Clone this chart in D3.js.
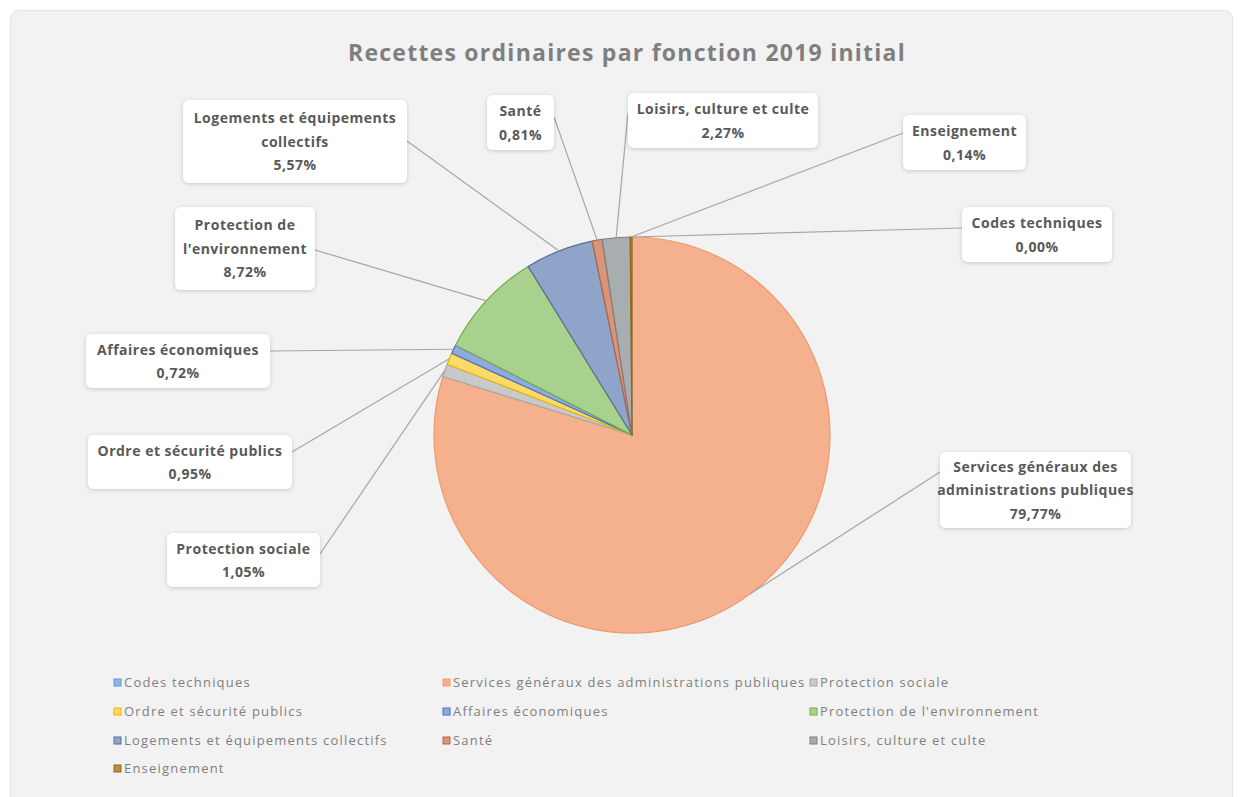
<!DOCTYPE html>
<html>
<head>
<meta charset="utf-8">
<script src="https://cdn.jsdelivr.net/npm/d3@7"></script>
<style>
  html, body { margin: 0; padding: 0; background: #ffffff; }
  svg { display: block; }
</style>
</head>
<body>
<script>
// ---------- DATA ----------
const categories = [
  "Codes techniques",
  "Services généraux des administrations publiques",
  "Protection sociale",
  "Ordre et sécurité publics",
  "Affaires économiques",
  "Protection de l'environnement",
  "Logements et équipements collectifs",
  "Santé",
  "Loisirs, culture et culte",
  "Enseignement"
];
const values = [0.00, 79.77, 1.05, 0.95, 0.72, 8.72, 5.57, 0.81, 2.27, 0.14];
const valueLabels = ["0,00%", "79,77%", "1,05%", "0,95%", "0,72%", "8,72%", "5,57%", "0,81%", "2,27%", "0,14%"];
const labelLines = [
  ["Codes techniques"],
  ["Services généraux des", "administrations publiques"],
  ["Protection sociale"],
  ["Ordre et sécurité publics"],
  ["Affaires économiques"],
  ["Protection de", "l'environnement"],
  ["Logements et équipements", "collectifs"],
  ["Santé"],
  ["Loisirs, culture et culte"],
  ["Enseignement"]
];
const title = "Recettes ordinaires par fonction 2019 initial";

// ---------- STYLE / LAYOUT ----------
const colors = ["#8fb4e0", "#f5b08e", "#c9c9c9", "#ffd966", "#8faadc", "#a9d18e",
                "#8ea4c8", "#d9957a", "#a8aeb0", "#b8913a"];
const strokes = ["#5b9bd5", "#ed9a6c", "#a5a5a5", "#e6b800", "#4472c4", "#70ad47",
                 "#5a6f94", "#b5653f", "#7f7f7f", "#8c6a1c"];
const boxes = [
  {x: 962, y: 207, w: 150, h: 55, ax: 962, ay: 228},
  {x: 940, y: 452, w: 191, h: 76, ax: 940, ay: 472},
  {x: 167, y: 533, w: 153, h: 54, ax: 320, ay: 554},
  {x: 88,  y: 435, w: 204, h: 54, ax: 292, ay: 452},
  {x: 86,  y: 334, w: 184, h: 54, ax: 270, ay: 351},
  {x: 175, y: 207, w: 140, h: 83, ax: 315, ay: 250},
  {x: 183, y: 100, w: 224, h: 83, ax: 407, ay: 141},
  {x: 487, y: 95,  w: 67,  h: 55, ax: 554, ay: 117},
  {x: 628, y: 93,  w: 190, h: 55, ax: 628, ay: 113},
  {x: 903, y: 115, w: 123, h: 55, ax: 903, ay: 133}
];
const W = 1243, H = 797;
const cx = 632, cy = 435, R = 198;
const FONT = "'Open Sans', Lato, sans-serif";

const svg = d3.select("body").append("svg").attr("width", W).attr("height", H);

const defs = svg.append("defs");
const f = defs.append("filter").attr("id", "shadow").attr("x", "-20%").attr("y", "-30%").attr("width", "140%").attr("height", "160%");
f.append("feGaussianBlur").attr("in", "SourceAlpha").attr("stdDeviation", 2).attr("result", "blur");
f.append("feOffset").attr("in", "blur").attr("dx", 0).attr("dy", 1).attr("result", "off");
f.append("feComponentTransfer").attr("in", "off").attr("result", "sh")
  .append("feFuncA").attr("type", "linear").attr("slope", 0.18);
const fm = f.append("feMerge");
fm.append("feMergeNode").attr("in", "sh");
fm.append("feMergeNode").attr("in", "SourceGraphic");

// chart area
svg.append("rect").attr("x", 10.5).attr("y", 10.5).attr("width", 1222).attr("height", 800)
  .attr("rx", 8).attr("fill", "#f2f2f2").attr("stroke", "#e3e3e3");

// title
svg.append("text").attr("x", 627).attr("y", 61).attr("text-anchor", "middle")
  .attr("font-family", FONT).attr("font-weight", "bold")
  .attr("font-size", 23).attr("letter-spacing", 1.25).attr("fill", "#7f7f7f").text(title);

// pie
const pie = d3.pie().sort(null).value(d => d)(values);
const arc = d3.arc().innerRadius(0).outerRadius(R);
const g = svg.append("g").attr("transform", `translate(${cx},${cy})`);
g.selectAll("path.slice").data(pie).join("path").attr("class", "slice")
  .attr("d", arc)
  .attr("fill", (d, i) => colors[i])
  .attr("stroke", (d, i) => strokes[i])
  .attr("stroke-width", 1.2)
  .attr("stroke-linejoin", "round");

// leader lines
const lines = svg.append("g");
pie.forEach((d, i) => {
  const a = (d.startAngle + d.endAngle) / 2;
  const px = cx + R * Math.sin(a), py = cy - R * Math.cos(a);
  const b = boxes[i];
  lines.append("line").attr("x1", b.ax).attr("y1", b.ay).attr("x2", px).attr("y2", py)
    .attr("stroke", "#a6a6a6").attr("stroke-width", 1.2);
});

// label boxes
const lg = svg.append("g");
boxes.forEach((b, i) => {
  const grp = lg.append("g");
  grp.append("rect").attr("x", b.x).attr("y", b.y).attr("width", b.w).attr("height", b.h)
    .attr("rx", 6).attr("fill", "#ffffff").attr("filter", "url(#shadow)");
  const lns = labelLines[i].concat([valueLabels[i]]);
  const lh = 23.5;
  const total = lns.length * lh;
  const top = b.y + (b.h - total) / 2;
  lns.forEach((t, k) => {
    grp.append("text").attr("x", b.x + b.w / 2).attr("y", top + k * lh + 17)
      .attr("text-anchor", "middle").attr("font-family", FONT)
      .attr("font-weight", "bold").attr("font-size", 14).attr("letter-spacing", 0.5)
      .attr("fill", "#595959").text(t);
  });
});

// legend
const colX = [114, 443, 810];
const rowY = [687, 716, 745, 773];
const leg = svg.append("g");
categories.forEach((c, i) => {
  const col = i % 3, row = Math.floor(i / 3);
  const x = colX[col], y = rowY[row];
  leg.append("rect").attr("x", x).attr("y", y - 8).attr("width", 7).attr("height", 7)
    .attr("fill", colors[i]).attr("stroke", strokes[i]).attr("stroke-width", 1);
  leg.append("text").attr("x", x + 10).attr("y", y)
    .attr("font-family", FONT).attr("font-size", 13).attr("letter-spacing", 1.2)
    .attr("fill", "#7f7f7f").text(c);
});
</script>
</body>
</html>
